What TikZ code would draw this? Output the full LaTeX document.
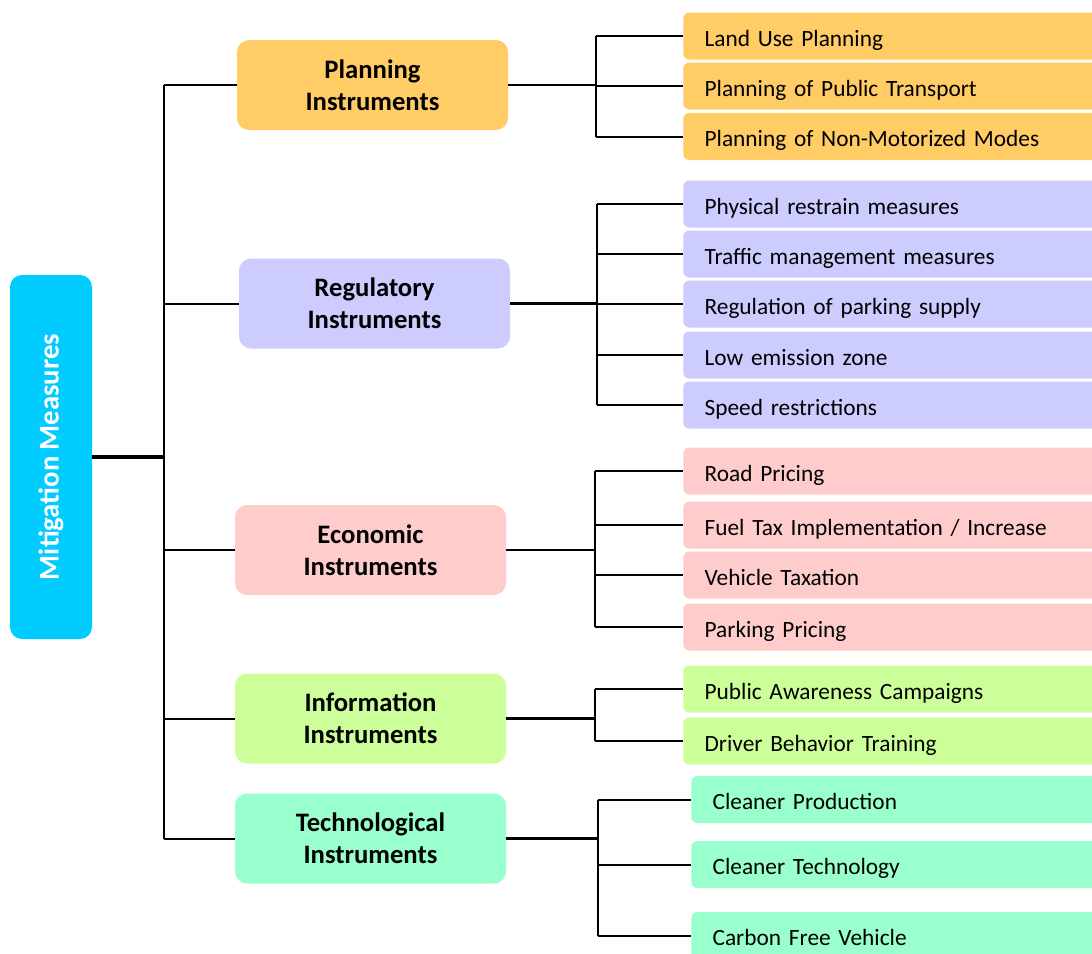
\documentclass[tikz,border=0pt]{standalone}
\usepackage{fontspec}
\setmainfont{Carlito}
\definecolor{mitc}{HTML}{00CCFF}
\definecolor{planc}{HTML}{FFCC66}
\definecolor{regc}{HTML}{CCCCFF}
\definecolor{ecoc}{HTML}{FFCCCC}
\definecolor{infc}{HTML}{CCFF99}
\definecolor{tecc}{HTML}{99FFCC}
\begin{document}
\begin{tikzpicture}[x=0.75pt,y=-0.75pt,
  mainbox/.style={rounded corners=9pt, minimum width=203.25pt, minimum height=67.5pt,
    align=center, inner sep=0pt, font=\fontsize{20}{24}\selectfont\bfseries},
  leaf/.style={rounded corners=4.5pt, anchor=west, minimum width=315pt, minimum height=35.25pt,
    text width=283pt, align=left, inner xsep=15.75pt, text height=15.4pt, text depth=0pt,
    font=\fontsize{17.5}{20}\selectfont},
  conn/.style={line width=1.5pt},
  trunk/.style={line width=1.8pt}
]
\useasboundingbox (0,0) rectangle (1092,953);
\fill[white] (0,0) rectangle (1092,953);
\clip (0,0) rectangle (1092,953);

% root
\node[rounded corners=9pt, fill=mitc, rotate=90, minimum width=273pt, minimum height=61.5pt,
  inner sep=0pt, text=white, font=\fontsize{21.5}{24}\selectfont\bfseries] (mit) at (51,457) {Mitigation Measures};

% main boxes
\node[mainbox, fill=planc] (plan) at (372.5,85) {Planning\\Instruments};
\node[mainbox, fill=regc] (reg) at (374.5,303.5) {Regulatory\\Instruments};
\node[mainbox, fill=ecoc] (eco) at (370.5,550) {Economic\\Instruments};
\node[mainbox, fill=infc] (inf) at (370.5,718.5) {Information\\Instruments};
\node[mainbox, fill=tecc] (tec) at (370.5,838.5) {Technological\\Instruments};

% leaves
\node[leaf, fill=planc] (p1) at (683,36) {Land Use Planning};
\node[leaf, fill=planc] (p2) at (683,86) {Planning of Public Transport};
\node[leaf, fill=planc] (p3) at (683,136.5) {Planning of Non-Motorized Modes};

\node[leaf, fill=regc] (r1) at (683,204) {Physical restrain measures};
\node[leaf, fill=regc] (r2) at (683,254) {Traffic management measures};
\node[leaf, fill=regc] (r3) at (683,304) {Regulation of parking supply};
\node[leaf, fill=regc] (r4) at (683,355) {Low emission zone};
\node[leaf, fill=regc] (r5) at (683,405) {Speed restrictions};

\node[leaf, fill=ecoc] (e1) at (683,471) {Road Pricing};
\node[leaf, fill=ecoc] (e2) at (683,525) {Fuel Tax Implementation / Increase};
\node[leaf, fill=ecoc] (e3) at (683,575) {Vehicle Taxation};
\node[leaf, fill=ecoc] (e4) at (683,627) {Parking Pricing};

\node[leaf, fill=infc] (i1) at (683,689) {Public Awareness Campaigns};
\node[leaf, fill=infc] (i2) at (683,741) {Driver Behavior Training};

\node[leaf, fill=tecc] (t1) at (691,799.5) {Cleaner Production};
\node[leaf, fill=tecc] (t2) at (691,864.5) {Cleaner Technology};
\node[leaf, fill=tecc] (t3) at (691,935.5) {Carbon Free Vehicle};

% trunk
\coordinate (tx) at (164,0);
\draw[line width=2.4pt] (mit.south) -- (mit.south -| tx);
\draw[trunk] (plan.west -| tx) -- (tec.west -| tx);
\foreach \n in {plan,reg,eco,inf,tec} \draw[conn] (\n.west -| tx) -- (\n.west);

% hubs
\coordinate (hp) at (596,0);
\coordinate (hr) at (597,0);
\coordinate (he) at (595,0);
\coordinate (hi) at (595,0);
\coordinate (ht) at (598,0);

\draw[trunk] (plan.east) -- (plan.east -| hp);
\draw[conn] (p1.west -| hp) -- (p3.west -| hp);
\foreach \n in {p1,p2,p3} \draw[conn] (\n.west -| hp) -- (\n.west);

\draw[trunk] (reg.east) -- (reg.east -| hr);
\draw[conn] (r1.west -| hr) -- (r5.west -| hr);
\foreach \n in {r1,r2,r3,r4,r5} \draw[conn] (\n.west -| hr) -- (\n.west);

\draw[trunk] (eco.east) -- (eco.east -| he);
\draw[conn] (e1.west -| he) -- (e4.west -| he);
\foreach \n in {e1,e2,e3,e4} \draw[conn] (\n.west -| he) -- (\n.west);

\draw[trunk] (inf.east) -- (inf.east -| hi);
\draw[conn] (i1.west -| hi) -- (i2.west -| hi);
\foreach \n in {i1,i2} \draw[conn] (\n.west -| hi) -- (\n.west);

\draw[trunk] (tec.east) -- (tec.east -| ht);
\draw[conn] (t1.west -| ht) -- (t3.west -| ht);
\foreach \n in {t1,t2,t3} \draw[conn] (\n.west -| ht) -- (\n.west);
\end{tikzpicture}
\end{document}
